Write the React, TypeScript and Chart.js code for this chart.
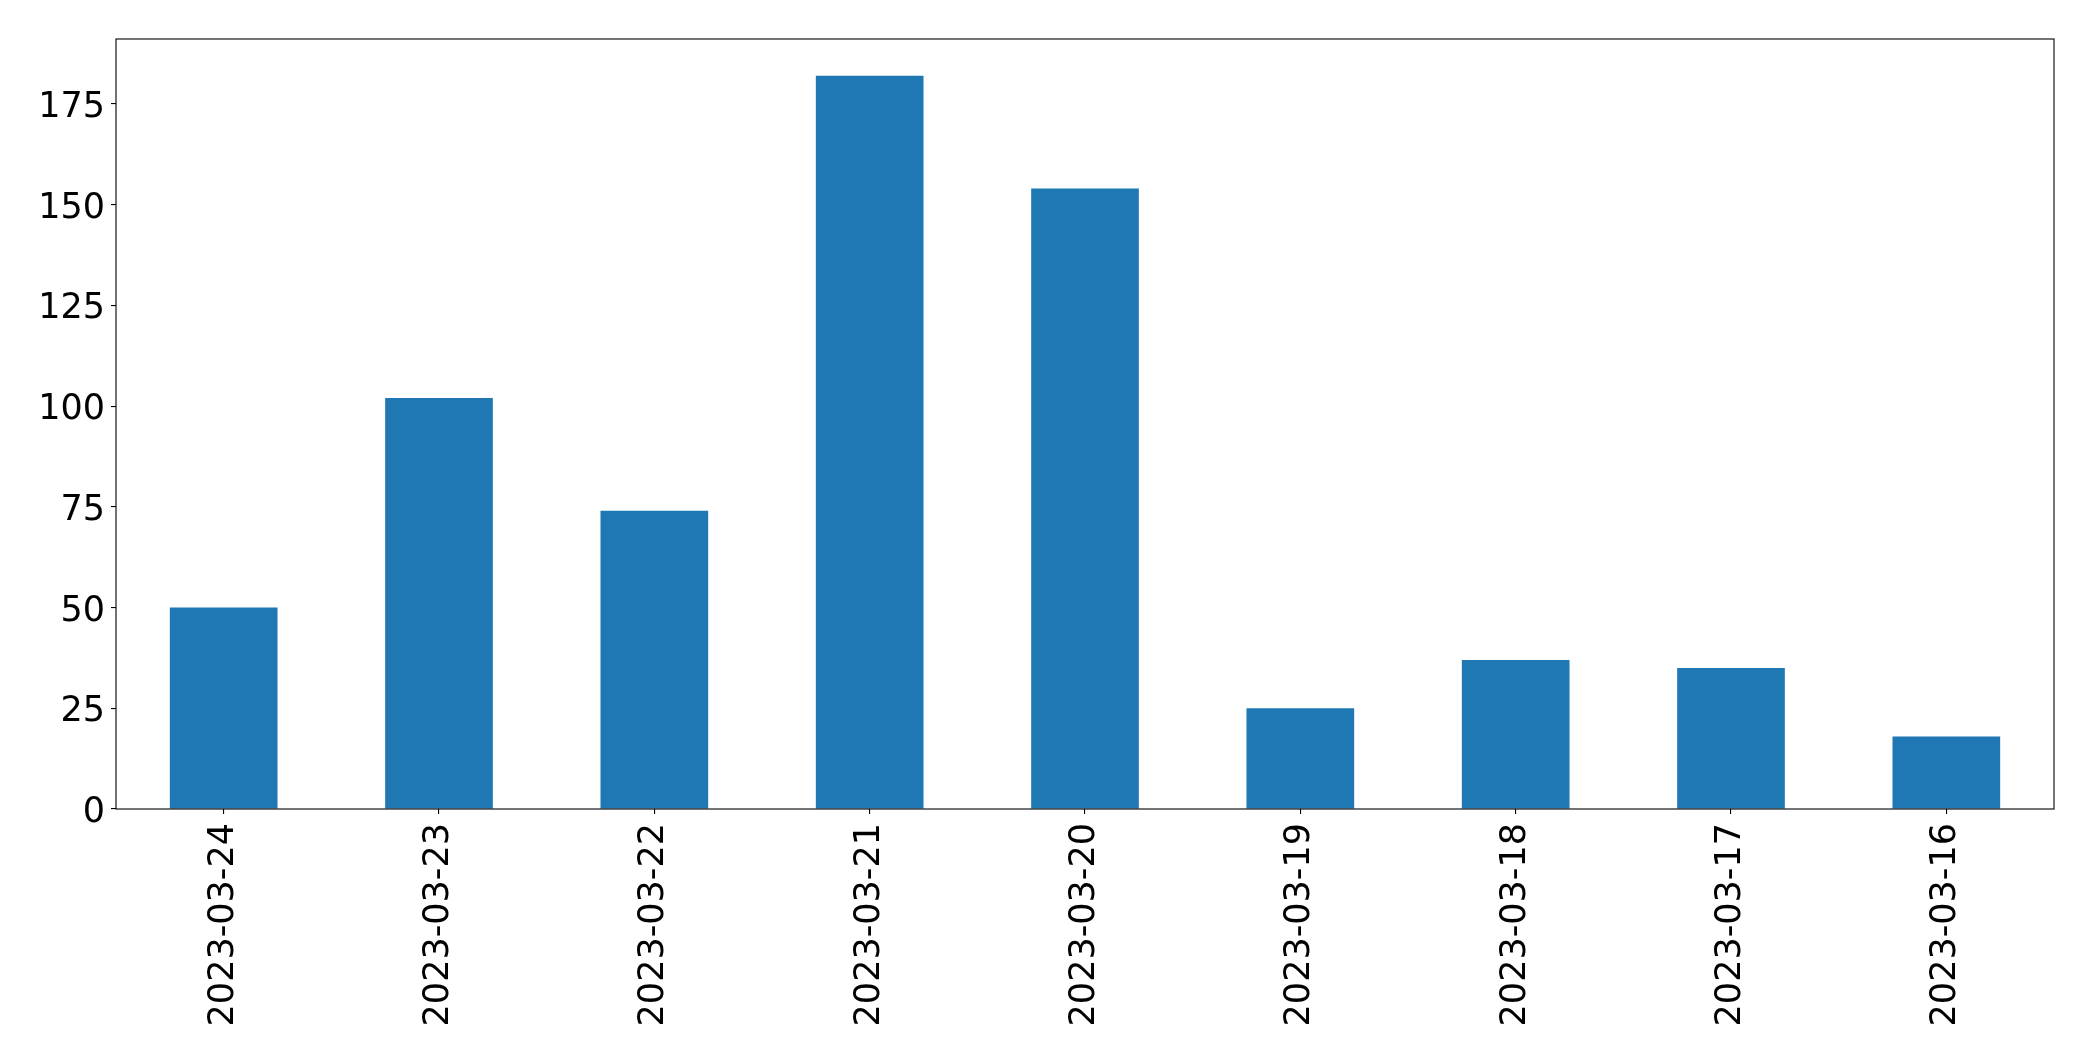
import React, { useEffect, useRef } from "react";
import { Chart, registerables } from "chart.js";

Chart.register(...registerables);

const categories: string[] = [
  "2023-03-24",
  "2023-03-23",
  "2023-03-22",
  "2023-03-21",
  "2023-03-20",
  "2023-03-19",
  "2023-03-18",
  "2023-03-17",
  "2023-03-16",
];
const values: number[] = [50, 102, 74, 182, 154, 25, 37, 35, 18];
const yTickValues: number[] = [0, 25, 50, 75, 100, 125, 150, 175];

const W = 2093;
const H = 1061;

const boxPlugin = {
  id: "boxPlugin",
  afterDraw(chart: any) {
    const { ctx, chartArea } = chart;
    ctx.save();
    ctx.strokeStyle = "#000";
    ctx.lineWidth = 1.1;
    ctx.strokeRect(chartArea.left, chartArea.top, chartArea.right - chartArea.left, chartArea.bottom - chartArea.top);
    ctx.restore();
  },
};

export default function App() {
  const ref = useRef<HTMLCanvasElement | null>(null);
  useEffect(() => {
    document.body.style.margin = "0";
    const canvas = ref.current!;
    const yMax = Math.max(...values) * 1.05;
    const chart = new Chart(canvas, {
      type: "bar",
      data: {
        labels: categories,
        datasets: [
          {
            data: values,
            backgroundColor: "#1f77b4",
            borderWidth: 0,
            barPercentage: 0.5,
            categoryPercentage: 1,
          },
        ],
      },
      options: {
        responsive: false,
        animation: false,
        devicePixelRatio: 1,
        layout: { padding: { top: 39, right: 39, left: 0, bottom: 0 } },
        plugins: { legend: { display: false }, tooltip: { enabled: false } },
        scales: {
          x: {
            type: "category",
            offset: true,
            grid: {
              offset: false,
              drawOnChartArea: false,
              drawTicks: true,
              tickLength: 5,
              color: "#000",
              lineWidth: 1.1,
            },
            border: { display: false },
            ticks: {
              color: "#000",
              font: { family: "DejaVu Sans", size: 35 },
              maxRotation: 90,
              minRotation: 90,
              padding: 9,
              autoSkip: false,
            },
            afterFit: (scale: any) => {
              scale.height = H - 809;
            },
          },
          y: {
            type: "linear",
            min: 0,
            max: yMax,
            grid: {
              drawOnChartArea: false,
              drawTicks: true,
              tickLength: 5,
              color: "#000",
              lineWidth: 1.1,
            },
            border: { display: false },
            ticks: {
              color: "#000",
              font: { family: "DejaVu Sans", size: 35 },
              stepSize: 25,
              includeBounds: false,
              padding: 6,
              labelOffset: 4,
            },
            afterBuildTicks: (scale: any) => {
              scale.ticks = yTickValues.map((v) => ({ value: v }));
            },
            afterFit: (scale: any) => {
              scale.width = 116;
            },
          },
        },
      },
      plugins: [boxPlugin],
    });
    return () => chart.destroy();
  }, []);
  return (
    <div style={{ position: "absolute", left: 0, top: 0, width: W, height: H, background: "#fff" }}>
      <canvas ref={ref} width={W} height={H} style={{ display: "block", width: W, height: H }} />
    </div>
  );
}
